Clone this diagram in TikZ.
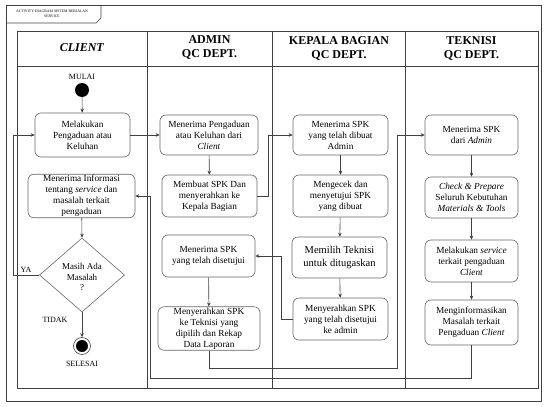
\documentclass[tikz,border=0pt]{standalone}
\usepackage{fontspec}
\setmainfont{Liberation Serif}
\usetikzlibrary{shapes.geometric,arrows.meta}
\begin{document}
\begin{tikzpicture}[x=1pt,y=-1pt,
  ln/.style={draw=black!75, line width=0.6pt},
  arr/.style={ln, -{Stealth[length=4pt,width=3.5pt]}},
  act/.style={draw=black!60, line width=0.6pt, rounded corners=6pt, align=center,
    inner sep=1pt, font=\fontsize{9.3}{11}\selectfont},
  head/.style={font=\fontsize{12}{14}\selectfont\bfseries, align=center},
  lbl/.style={font=\fontsize{8}{9}\selectfont, inner sep=1pt}]
\useasboundingbox (0,0) rectangle (544,407);
% outer frame and tab
\draw[ln] (6,5) rectangle (541,401);
\draw[ln] (6,23) -- (96,23) -- (101,18) -- (101,5);
\node[font=\fontsize{3.8}{4.5}\selectfont, align=center] (tab) at (52,14) {ACTIVITY DIAGRAM SISTEM BERJALAN\\SERVICE};
% swimlanes
\draw[ln] (17,31) rectangle (538,388);
\draw[ln] (17,66) -- (538,66);
\draw[ln] (147,31) -- (147,388);
\draw[ln] (272.5,31) -- (272.5,388);
\draw[ln] (405,31) -- (405,388);
\node[head] (h1) at (82,48) {\textit{CLIENT}};
\node[head] (h2) at (209.5,48) {ADMIN\\QC DEPT.};
\node[head] (h3) at (339,48) {KEPALA BAGIAN\\QC DEPT.};
\node[head] (h4) at (471.5,48) {TEKNISI\\QC DEPT.};
% client
\node[lbl] (mulai) at (82,77) {MULAI};
\node[circle, fill=black, minimum size=14pt, inner sep=0] (start) at (82,90) {};
\node[act, minimum width=95pt, minimum height=44pt] (c1) at (82.5,135) {Melakukan\\Pengaduan atau\\Keluhan};
\node[act, minimum width=107pt, minimum height=42pt] (c2) at (81.5,196) {Menerima Informasi\\tentang \textit{service} dan\\masalah terkait\\pengaduan};
\node[diamond, draw=black!60, line width=0.6pt, minimum width=85pt, minimum height=74pt, inner sep=0] (dec) at (82,275) {};
\node[align=center, font=\fontsize{9}{10.5}\selectfont] (dectxt) at (82,277) {Masih Ada\\Masalah\\?};
\node[circle, draw=black!75, line width=0.6pt, minimum size=17pt, inner sep=0] (endo) at (82,346) {};
\node[circle, fill=black, minimum size=12pt, inner sep=0] (endi) at (82,346) {};
\node[lbl] (selesai) at (82,364) {SELESAI};
\node[lbl] (ya) at (26,270) {YA};
\node[lbl] (tidak) at (55,320) {TIDAK};
% admin
\node[act, minimum width=98pt, minimum height=40pt] (a1) at (209,135) {Menerima Pengaduan\\atau Keluhan dari\\\textit{Client}};
\node[act, minimum width=95pt, minimum height=42pt] (a2) at (209.5,196) {Membuat SPK Dan\\menyerahkan ke\\Kepala Bagian};
\node[act, minimum width=93pt, minimum height=42pt] (a3) at (208.5,256) {Menerima SPK\\yang telah disetujui};
\node[act, minimum width=102pt, minimum height=43pt] (a4) at (209,328.5) {Menyerahkan SPK\\ke Teknisi yang\\dipilih dan Rekap\\Data Laporan};
% kepala bagian
\node[act, minimum width=95pt, minimum height=40pt] (k1) at (340.5,135) {Menerima SPK\\yang telah dibuat\\Admin};
\node[act, minimum width=95pt, minimum height=42pt] (k2) at (340.5,196) {Mengecek dan\\menyetujui SPK\\yang dibuat};
\node[act, minimum width=95pt, minimum height=41pt, font=\fontsize{10.5}{12.5}\selectfont] (k3) at (339.5,257.5) {Memilih Teknisi\\untuk ditugaskan};
\node[act, minimum width=95pt, minimum height=42pt] (k4) at (340.5,319) {Menyerahkan SPK\\yang telah disetujui\\ke admin};
% teknisi
\node[act, minimum width=93pt, minimum height=40pt] (t1) at (471.5,135) {Menerima SPK\\dari \textit{Admin}};
\node[act, minimum width=93pt, minimum height=41pt] (t2) at (471.5,197.5) {\textit{Check \& Prepare}\\Seluruh Kebutuhan\\\textit{Materials \& Tools}};
\node[act, minimum width=93pt, minimum height=42pt] (t3) at (471.5,261) {Melakukan \textit{service}\\terkait pengaduan\\\textit{Client}};
\node[act, minimum width=93pt, minimum height=45pt] (t4) at (471.5,322.5) {Menginformasikan\\Masalah terkait\\Pengaduan \textit{Client}};
% corner coordinates
\coordinate (p1) at (268,196);
\coordinate (p2) at (281,319);
\coordinate (p3) at (397,368);
\coordinate (p4) at (150,378);
\coordinate (p5) at (13,275);
% connectors
\draw[arr] (start) -- (c1);
\draw[arr] (c1.east) -- (a1.west);
\draw[arr] (a1) -- (a2);
\draw[arr] (a2.east) -- (p1) |- (k1.west);
\draw[arr] (k1) -- (k2);
\draw[arr] (k2) -- (k3);
\draw[arr] (k3) -- (k4);
\draw[arr] (k4.west) -- (p2) |- (a3.east);
\draw[arr] (a3) -- (a4);
\draw[arr] (a4.south) |- (p3) |- (t1.west);
\draw[arr] (t1) -- (t2);
\draw[arr] (t2) -- (t3);
\draw[arr] (t3) -- (t4);
\draw[arr] (t4.south) |- (p4) |- (c2.east);
\draw[arr] (c2) -- (dec.north);
\draw[arr] (dec.west) -- (p5) |- (c1.west);
\draw[arr] (dec.south) -- (endo);
\end{tikzpicture}
\end{document}
